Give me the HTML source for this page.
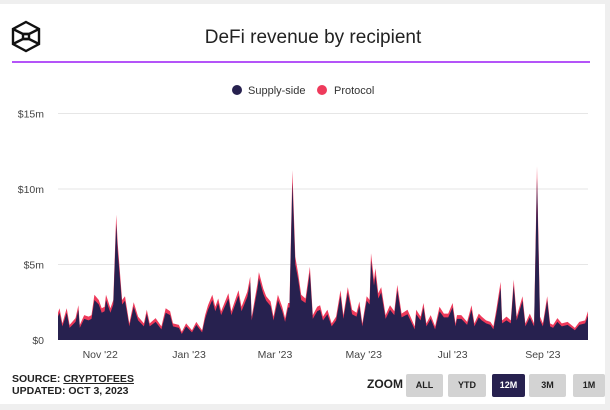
<!DOCTYPE html>
<html><head><meta charset="utf-8"><style>
body{margin:0;width:610px;height:410px;background:#efefef;font-family:"Liberation Sans",sans-serif;overflow:hidden;position:relative}
#card{position:absolute;left:0;top:4px;width:605px;height:400px;background:#fff}
.btn{position:absolute;top:374px;height:23px;background:#d3d3d3;border-radius:2px;font:bold 9px "Liberation Sans",sans-serif;color:#222;text-align:center;line-height:23px}
</style></head><body>
<div id="card"></div>
<svg width="610" height="410" style="position:absolute;left:0;top:0">
<g fill="none" stroke="#111" stroke-width="2.4">
<polygon points="26,22 39,29 39,44 26,51 13,44 13,29"/>
<polyline points="13,29 23,34 29,34 39,29"/><polyline points="13,44 23,39 29,39 39,44"/>
<rect x="23" y="34" width="6" height="5"/>
</g>
<text x="313" y="43" text-anchor="middle" font-size="19" fill="#222">DeFi revenue by recipient</text>
<line x1="12" y1="62" x2="590" y2="62" stroke="#9b1cf5" stroke-width="1.5"/>
<g font-size="11" fill="#333">
<circle cx="237" cy="90" r="5" fill="#27214f"/>
<text x="248" y="94">Supply-side</text>
<circle cx="322" cy="90" r="5" fill="#ee3a5b"/>
<text x="334" y="94">Protocol</text>
</g>
<g id="grid"></g><g id="yl"></g><g id="areas"></g><g id="xl"></g>
</svg>
<div style="position:absolute;left:12px;top:373px;font:bold 10.5px 'Liberation Sans',sans-serif;color:#222;line-height:12px">SOURCE: <span style="text-decoration:underline">CRYPTOFEES</span><br>UPDATED: OCT 3, 2023</div>
<div style="position:absolute;left:367px;top:377px;font:bold 12px 'Liberation Sans',sans-serif;color:#222">ZOOM</div>
<div class="btn" style="left:406px;width:37px">ALL</div>
<div class="btn" style="left:448px;width:38px">YTD</div>
<div class="btn" style="left:492px;width:33px;background:#27214f;color:#fff">12M</div>
<div class="btn" style="left:529px;width:37px">3M</div>
<div class="btn" style="left:573px;width:32px">1M</div>
<script>
const days=[0,1,3,6,8,12,14,15,18,21,23,25,28,30,32,33,36,38,40,41,44,46,49,52,55,59,61,63,67,71,74,77,79,83,85,88,92,95,99,101,103,106,108,110,112,117,119,124,126,130,132,133,137,138,141,143,146,148,151,154,156,158,159,161,163,165,167,170,173,175,178,180,182,185,188,191,194,196,199,202,205,207,209,212,214,215,217,218,220,222,225,228,231,233,236,240,245,246,249,251,253,256,259,262,265,268,271,273,274,277,281,284,286,289,291,294,297,299,301,304,305,308,311,313,315,319,321,324,327,329,331,333,336,338,340,343,346,350,355,358,362,364];
const totals=[1.8,2.1,1.1,2.1,1.0,1.45,2.3,1.0,1.65,1.55,1.65,3.0,2.65,2.1,2.2,3.0,2.1,2.65,8.3,6.4,2.65,2.9,1.1,2.5,1.55,1.1,2.0,1.1,1.45,0.9,2.1,1.9,1.1,1.0,0.55,1.1,0.65,1.2,0.65,1.65,2.3,3.0,2.2,2.75,1.9,3.1,1.9,3.3,2.2,3.2,4.2,1.55,3.75,4.5,3.4,2.9,2.55,1.55,3.0,2.2,1.45,2.45,2.45,11.25,5.5,4.4,3.0,2.75,4.85,1.65,2.2,2.3,1.55,2.0,1.1,1.55,3.3,1.65,3.5,2.0,1.8,2.55,1.1,2.9,2.65,5.75,4.0,4.75,3.1,3.5,1.65,2.3,1.9,3.65,1.75,2.0,0.9,2.0,1.55,2.45,1.1,1.65,0.9,2.2,1.75,1.75,2.45,1.1,1.65,1.65,1.2,2.3,1.1,1.75,1.55,1.3,1.2,0.9,2.0,3.85,1.3,1.55,1.3,4.0,1.55,2.9,1.1,1.75,1.1,11.5,1.55,1.1,2.9,1.1,1.0,1.45,1.1,1.2,0.8,1.2,1.3,1.9];
const protocol=[0.25,0.3,0.2,0.3,0.2,0.25,0.3,0.2,0.25,0.25,0.25,0.35,0.3,0.3,0.3,0.35,0.3,0.3,0.6,0.5,0.3,0.3,0.2,0.3,0.25,0.2,0.25,0.2,0.25,0.2,0.3,0.25,0.2,0.2,0.15,0.2,0.15,0.2,0.15,0.25,0.3,0.35,0.3,0.3,0.25,0.35,0.25,0.35,0.3,0.35,0.4,0.25,0.35,0.4,0.35,0.3,0.3,0.25,0.35,0.3,0.25,0.3,0.3,0.8,0.5,0.4,0.35,0.3,0.4,0.25,0.3,0.3,0.25,0.3,0.2,0.25,0.35,0.25,0.35,0.3,0.25,0.3,0.2,0.3,0.3,0.5,0.4,0.45,0.35,0.35,0.25,0.3,0.25,0.35,0.25,0.3,0.2,0.3,0.25,0.3,0.2,0.25,0.2,0.3,0.25,0.25,0.3,0.2,0.25,0.25,0.2,0.3,0.2,0.25,0.25,0.2,0.2,0.2,0.3,0.4,0.2,0.25,0.2,0.4,0.25,0.3,0.2,0.25,0.2,0.8,0.25,0.2,0.3,0.2,0.2,0.25,0.2,0.2,0.15,0.2,0.2,0.3];
const yTicks=[0,5,10,15];
const yTickLabels=["$0","$5m","$10m","$15m"];
const xTickDays=[29,90,149,210,271,333];
const xTickLabels=["Nov '22","Jan '23","Mar '23","May '23","Jul '23","Sep '23"];
const X0=58,X1=588,Y0=340,PXM=15.1,NS="http://www.w3.org/2000/svg";
const xs=d=>X0+d*(X1-X0)/364, ys=v=>Y0-v*PXM;
function mk(tag,parent,attrs){const e=document.createElementNS(NS,tag);for(const k in attrs)e.setAttribute(k,attrs[k]);document.getElementById(parent).appendChild(e);return e;}
yTicks.forEach((t,i)=>{
 if(t>0){const g=mk('line','grid',{x1:X0,x2:X1,y1:ys(t),y2:ys(t),stroke:'#e6e6e6','stroke-width':1});
 
 }
 const l=mk('text','yl',{x:44,y:ys(t)+4,'text-anchor':'end','font-size':10.5,fill:'#444'});l.textContent=yTickLabels[i];
 
 
});
function area(vals){let p=`M${xs(days[0])},${Y0}`;days.forEach((d,i)=>p+=`L${xs(d).toFixed(1)},${ys(vals[i]).toFixed(1)}`);return p+`L${xs(days[days.length-1])},${Y0}Z`;}
const pa=mk('path','areas',{d:area(totals),fill:'#ee3a5b'});


const sa=mk('path','areas',{d:area(totals.map((t,i)=>t-protocol[i])),fill:'#27214f'});


xTickDays.forEach((d,i)=>{const l=mk('text','xl',{x:xs(d),y:358,'text-anchor':'middle','font-size':10.5,fill:'#444'});l.textContent=xTickLabels[i];
 
 });
</script>
</body></html>
